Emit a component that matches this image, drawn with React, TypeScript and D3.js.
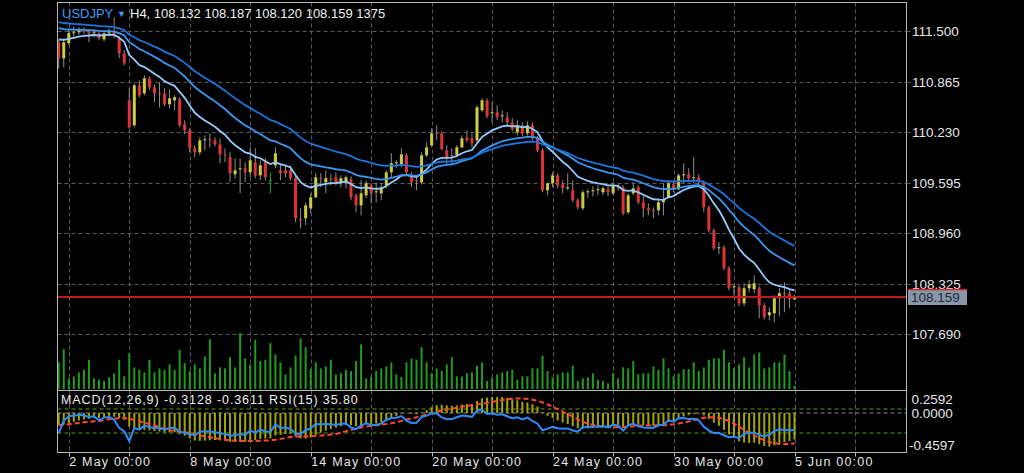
import React from "react";
import * as d3 from "d3";

// ---- H4 bars, 1 May 16:00 -> 5 Jun 00:00 ----
const opens = [
  111.366, 111.160, 111.349, 111.475, 111.487, 111.513, 111.500, 111.475, 111.475, 111.399,
  111.475, 111.487, 111.412, 111.223, 110.632, 110.318, 110.821, 110.720, 110.909, 110.796,
  110.720, 110.720, 110.582, 110.632, 110.645, 110.331, 110.255, 110.029, 109.978, 110.129,
  110.142, 110.129, 110.079, 109.953, 109.916, 109.702, 109.765, 109.778, 109.727, 109.853,
  109.689, 109.853, 109.626, 109.815, 109.752, 109.752, 109.752, 109.652, 109.136, 109.149,
  109.274, 109.413, 109.652, 109.601, 109.652, 109.664, 109.589, 109.601, 109.639, 109.438,
  109.312, 109.438, 109.564, 109.476, 109.463, 109.564, 109.727, 109.840, 109.815, 109.941,
  109.689, 109.626, 109.601, 109.941, 110.067, 110.217, 110.217, 110.004, 109.941, 109.941,
  110.041, 110.167, 110.154, 110.129, 110.507, 110.632, 110.469, 110.482, 110.431, 110.419,
  110.356, 110.230, 110.318, 110.217, 110.318, 110.154, 110.004, 109.501, 109.589, 109.689,
  109.576, 109.526, 109.501, 109.375, 109.274, 109.476, 109.488, 109.501, 109.476, 109.513,
  109.463, 109.551, 109.539, 109.224, 109.463, 109.539, 109.350, 109.274, 109.249, 109.249,
  109.350, 109.413, 109.576, 109.513, 109.689, 109.702, 109.652, 109.664, 109.601, 109.287,
  108.998, 108.772, 108.784, 108.520, 108.281, 108.281, 108.080, 108.269, 108.256, 108.269,
  108.055, 107.929, 107.954, 108.143, 108.206, 108.206, 108.132,
];
const highs = [
  111.387, 111.412, 111.513, 111.563, 111.550, 111.550, 111.525, 111.513, 111.500, 111.500,
  111.538, 111.676, 111.437, 111.261, 110.783, 110.846, 110.884, 110.947, 110.934, 110.834,
  110.859, 110.783, 110.771, 110.695, 110.670, 110.381, 110.280, 110.067, 110.167, 110.192,
  110.217, 110.167, 110.154, 110.029, 109.978, 109.903, 109.903, 109.853, 110.041, 110.029,
  109.878, 109.903, 109.727, 110.041, 109.828, 109.815, 109.815, 109.689, 109.274, 109.350,
  109.463, 109.715, 109.715, 109.752, 109.702, 109.727, 109.689, 109.689, 109.677, 109.463,
  109.626, 109.626, 109.589, 109.601, 109.589, 109.752, 109.966, 109.878, 110.029, 109.966,
  109.727, 109.689, 109.978, 110.104, 110.280, 110.318, 110.242, 110.067, 110.029, 110.067,
  110.192, 110.255, 110.217, 110.570, 110.657, 110.657, 110.607, 110.570, 110.507, 110.482,
  110.406, 110.381, 110.356, 110.369, 110.356, 110.180, 110.029, 109.601, 109.727, 109.715,
  109.626, 109.715, 109.626, 109.400, 109.501, 109.513, 109.551, 109.564, 109.551, 109.551,
  109.601, 109.576, 109.564, 109.463, 109.601, 109.564, 109.438, 109.337, 109.287, 109.400,
  109.589, 109.626, 109.626, 109.715, 109.840, 109.778, 109.916, 109.702, 109.626, 109.312,
  109.023, 108.847, 108.809, 108.545, 108.319, 108.306, 108.331, 108.369, 108.432, 108.294,
  108.080, 108.030, 108.181, 108.269, 108.344, 108.243, 108.187,
];
const lows = [
  111.035, 111.047, 111.324, 111.412, 111.450, 111.462, 111.362, 111.425, 111.387, 111.374,
  111.437, 111.412, 111.160, 111.072, 110.280, 110.293, 110.670, 110.695, 110.758, 110.607,
  110.544, 110.557, 110.532, 110.507, 110.293, 110.205, 109.978, 109.916, 109.941, 110.004,
  110.041, 110.054, 109.840, 109.853, 109.601, 109.652, 109.463, 109.601, 109.664, 109.652,
  109.626, 109.626, 109.463, 109.778, 109.626, 109.664, 109.626, 109.099, 109.023, 109.061,
  109.212, 109.400, 109.539, 109.463, 109.564, 109.564, 109.539, 109.526, 109.375, 109.224,
  109.186, 109.400, 109.337, 109.350, 109.375, 109.526, 109.652, 109.778, 109.790, 109.689,
  109.539, 109.501, 109.576, 109.916, 110.041, 110.129, 110.004, 109.815, 109.815, 109.916,
  110.029, 110.104, 110.041, 110.092, 110.482, 110.406, 110.356, 110.381, 110.356, 110.318,
  110.243, 110.192, 110.180, 110.192, 110.129, 109.978, 109.476, 109.438, 109.539, 109.526,
  109.463, 109.501, 109.350, 109.262, 109.249, 109.400, 109.425, 109.438, 109.438, 109.425,
  109.438, 109.501, 109.186, 109.199, 109.438, 109.325, 109.161, 109.186, 109.149, 109.186,
  109.186, 109.400, 109.476, 109.501, 109.589, 109.601, 109.589, 109.564, 109.224, 108.973,
  108.746, 108.696, 108.495, 108.243, 108.156, 108.042, 108.042, 108.218, 108.206, 107.891,
  107.879, 107.866, 107.841, 107.917, 107.967, 108.017, 108.120,
];
const closes = [
  111.160, 111.362, 111.475, 111.487, 111.513, 111.500, 111.475, 111.487, 111.412, 111.475,
  111.487, 111.437, 111.223, 111.098, 110.293, 110.821, 110.695, 110.909, 110.796, 110.720,
  110.708, 110.582, 110.657, 110.670, 110.318, 110.255, 110.029, 109.978, 110.129, 110.142,
  110.129, 110.079, 109.953, 109.941, 109.715, 109.752, 109.778, 109.727, 109.878, 109.689,
  109.815, 109.664, 109.626, 109.966, 109.715, 109.715, 109.652, 109.149, 109.130, 109.312,
  109.413, 109.664, 109.645, 109.652, 109.639, 109.601, 109.652, 109.664, 109.413, 109.312,
  109.463, 109.589, 109.463, 109.488, 109.539, 109.727, 109.840, 109.853, 109.953, 109.727,
  109.601, 109.614, 109.941, 110.041, 110.217, 110.205, 110.016, 109.916, 109.928, 110.041,
  110.154, 110.129, 110.092, 110.544, 110.632, 110.431, 110.482, 110.419, 110.444, 110.356,
  110.268, 110.318, 110.217, 110.318, 110.154, 110.004, 109.501, 109.589, 109.689, 109.564,
  109.526, 109.539, 109.375, 109.287, 109.476, 109.488, 109.501, 109.513, 109.526, 109.476,
  109.564, 109.526, 109.212, 109.438, 109.526, 109.350, 109.274, 109.249, 109.243, 109.350,
  109.375, 109.589, 109.513, 109.689, 109.702, 109.652, 109.664, 109.601, 109.287, 108.998,
  108.772, 108.784, 108.520, 108.269, 108.294, 108.080, 108.269, 108.319, 108.331, 108.055,
  107.904, 107.967, 108.143, 108.206, 108.199, 108.130, 108.159,
];
const volumes = [
  11600, 17400, 4640, 5510, 7250, 8410, 12760, 4640, 4060, 3480,
  5080, 6820, 12760, 5510, 15660, 9430, 8410, 7250, 12760, 7250,
  8990, 8410, 10730, 8410, 17110, 11310, 7830, 10730, 8990, 14210,
  21750, 6820, 9430, 8990, 13920, 9430, 24360, 13340, 10730, 21460,
  12180, 12760, 20010, 15080, 11600, 6380, 9430, 14500, 22040, 18270,
  8700, 11600, 8990, 9860, 12760, 6380, 6960, 8410, 7830, 12180,
  19430, 4640, 5220, 7830, 8990, 9860, 11600, 6380, 5220, 11600,
  13340, 12760, 18270, 11600, 6960, 8990, 7830, 10730, 13920, 5510,
  5510, 6820, 7250, 10150, 11600, 3480, 5080, 6380, 7250, 7830,
  8410, 4060, 5510, 5510, 8990, 8990, 14500, 7830, 5080, 6380,
  7250, 7250, 10150, 3480, 4640, 5080, 6820, 4060, 3480, 2470,
  6960, 4640, 9430, 8990, 12180, 6380, 6820, 6820, 9860, 8410,
  13340, 8990, 5510, 6820, 8700, 8700, 11600, 7830, 9430, 12760,
  13340, 13340, 17110, 11600, 8990, 10730, 13920, 9430, 15080, 15950,
  8990, 9430, 11600, 11600, 15080, 7830, 1375,
];

// ---- axis texts ----
const priceTicks = [111.5, 110.865, 110.23, 109.595, 108.96, 108.325, 107.69];
const timeLabels = ["2 May 00:00", "8 May 00:00", "14 May 00:00", "20 May 00:00", "24 May 00:00", "30 May 00:00", "5 Jun 00:00"];
const timeLabelBars = [2, 26, 50, 74, 98, 122, 146];
const macdAxisValues = [0.2592, 0, -0.4597];
const symbol = "USDJPY";
const headerText = "H4, 108.132 108.187 108.120 108.159 1375";
const subHeaderText = "MACD(12,26,9) -0.3128 -0.3611 RSI(15) 35.80";
const lastPrice = 108.159;
const rsiLevels = [70, 30];

// ---- indicator parameters ----
const EMA_PERIODS = [12, 26, 40];
const EMA_SEEDS = [111.44, 111.57, 111.64];
const MACD_SIGNAL = 9;
const RSI_PERIOD = 15;
const RSI_SEED = 0.011;

function ema(values: number[], period: number, seed: number) {
  const a = 2 / (period + 1);
  let e = seed;
  return values.map((v) => (e = e + a * (v - e)));
}
function rsiCalc(c: number[], o: number[], period: number, seed: number) {
  let g = seed, l = seed;
  return c.map((v, i) => {
    const ch = v - (i === 0 ? o[0] : c[i - 1]);
    g = (g * (period - 1) + Math.max(ch, 0)) / period;
    l = (l * (period - 1) + Math.max(-ch, 0)) / period;
    return 100 - 100 / (1 + g / l);
  });
}

const BULL = "#cdcd3c";
const BEAR = "#dd3535";
const WICK = "#8e8e8e";
const DOJI = "#22aa22";
const GRID = "#5a5a5a";
const FRAME = "#b8b8b8";
const MA_COLORS = ["#93cbff", "#3a98f2", "#1c74dc"];
const FONT = "'Liberation Sans', Arial, sans-serif";

export default function App() {
  const n = closes.length;
  const idx = d3.range(n);
  const L = 57.5, R = 906.5, T = 2.5, MB = 390.5, SB = 452.5;
  const x = d3.scaleLinear().domain([0, 146]).range([58.7, 794.5]);
  const y = d3.scaleLinear().domain([107.69, 111.5]).range([334.3, 31.3]);
  const yVol = d3.scaleLinear().domain([0, 24000]).range([389, 334]);
  const yMacd = d3.scaleLinear().domain([-0.4597, 0.2592]).range([452, 391]);
  const yRsi = d3.scaleLinear().domain([0, 100]).range([451, 391]);

  const emas = EMA_PERIODS.map((p, k) => ema(closes, p, EMA_SEEDS[k]));
  const macd = idx.map((i) => emas[0][i] - emas[1][i]);
  const signal = idx.map((i) => d3.mean(macd.slice(Math.max(0, i - MACD_SIGNAL + 1), i + 1)) as number);
  const rsi = rsiCalc(closes, opens, RSI_PERIOD, RSI_SEED);

  const priceLine = d3.line<number>().x((_, i) => x(i)).y((v) => y(v));
  const signalLine = d3.line<number>().x((_, i) => x(i)).y((v) => yMacd(v));
  const rsiLine = d3.line<number>().x((_, i) => x(i)).y((v) => yRsi(v));
  const gridBars = d3.range(2, 170, 12).filter((b) => x(b) < R - 2);

  return (
    <svg width={1024} height={473} style={{ position: "absolute", left: 0, top: 0, display: "block" }}>
      <defs>
        <clipPath id="mainClip"><rect x={L + 0.5} y={T + 0.5} width={R - L - 1} height={MB - T - 1} /></clipPath>
        <clipPath id="subClip"><rect x={L + 0.5} y={MB + 0.5} width={R - L - 1} height={SB - MB - 1} /></clipPath>
      </defs>
      <rect x={0} y={0} width={1024} height={473} fill="#000" />

      {/* grids */}
      <g stroke={GRID} strokeWidth={1} strokeDasharray="4,3">
        {gridBars.map((b) => (
          <line key={"vg" + b} x1={Math.round(x(b)) + 0.5} x2={Math.round(x(b)) + 0.5} y1={T} y2={MB} />
        ))}
        {gridBars.map((b) => (
          <line key={"vs" + b} x1={Math.round(x(b)) + 0.5} x2={Math.round(x(b)) + 0.5} y1={MB} y2={SB} />
        ))}
        {priceTicks.map((p) => (
          <line key={"hg" + p} x1={L} x2={R} y1={Math.round(y(p)) + 0.5} y2={Math.round(y(p)) + 0.5} />
        ))}
      </g>

      {/* main panel */}
      <g clipPath="url(#mainClip)">
        {idx.map((i) => (
          <rect key={"v" + i} x={x(i) - 1} width={2} y={yVol(volumes[i])} height={389 - yVol(volumes[i])} fill="#229a22" />
        ))}
        {idx.map((i) => {
          const o = opens[i], c = closes[i];
          const doji = o === c;
          const col = doji ? DOJI : c > o ? BULL : BEAR;
          const top = Math.min(y(o), y(c));
          const h = Math.max(1, Math.abs(y(o) - y(c)));
          return (
            <g key={"c" + i}>
              <line x1={x(i)} x2={x(i)} y1={y(highs[i])} y2={y(lows[i])} stroke={doji ? DOJI : WICK} strokeWidth={1} />
              <rect x={x(i) - 1.5} width={3} y={top} height={h} fill={col} />
            </g>
          );
        })}
        {emas.map((e, k) => (
          <path key={"ma" + k} d={priceLine(e) || ""} fill="none" stroke={MA_COLORS[k]} strokeWidth={1.8} />
        ))}
        <line x1={L} x2={R} y1={y(lastPrice)} y2={y(lastPrice)} stroke="#b81c1c" strokeWidth={2.2} />
      </g>

      {/* sub panel: MACD + RSI */}
      <g clipPath="url(#subClip)">
        {rsiLevels.map((lv) => (
          <line key={"rl" + lv} x1={L} x2={R} y1={yRsi(lv)} y2={yRsi(lv)} stroke="#5c9c10" strokeDasharray="4,3" />
        ))}
        <line x1={L} x2={R} y1={yMacd(0)} y2={yMacd(0)} stroke="#8a8a8a" strokeDasharray="4,3" />
        {idx.map((i) => (
          <rect key={"m" + i} x={x(i) - 1} width={2}
            y={Math.min(yMacd(0), yMacd(macd[i]))} height={Math.abs(yMacd(macd[i]) - yMacd(0))} fill="#a5a500" />
        ))}
        <path d={signalLine(signal) || ""} fill="none" stroke="#ff4433" strokeWidth={2} strokeDasharray="5,3" />
        <path d={rsiLine(rsi) || ""} fill="none" stroke="#2a8cff" strokeWidth={2} />
      </g>

      {/* frames */}
      <rect x={L} y={T} width={R - L} height={MB - T} fill="none" stroke={FRAME} />
      <rect x={L} y={MB} width={R - L} height={SB - MB} fill="none" stroke={FRAME} />

      {/* price axis */}
      <g fontFamily={FONT} fontSize={13.5} fill="#e6e6e6">
        {priceTicks.map((p) => (
          <g key={"pt" + p}>
            <line x1={R} x2={R + 4} y1={Math.round(y(p)) + 0.5} y2={Math.round(y(p)) + 0.5} stroke={GRID} />
            <text x={912} y={y(p) + 5}>{p.toFixed(3)}</text>
          </g>
        ))}
        {macdAxisValues.map((v, k) => (
          <text key={"ma" + v} x={v < 0 ? 909 : 911.5} y={k === 0 ? 404 : k === 1 ? 418 : 450}>{v.toFixed(4)}</text>
        ))}
      </g>
      <rect x={908} y={y(lastPrice) - 8} width={59} height={16} fill="#8796a8" />
      <line x1={908} x2={967} y1={y(lastPrice) - 7.5} y2={y(lastPrice) - 7.5} stroke="#d02020" strokeWidth={1.5} />
      <text x={911} y={y(lastPrice) + 5} fontFamily={FONT} fontSize={13.5} fill="#262a30">{lastPrice.toFixed(3)}</text>

      {/* time axis */}
      <g fontFamily={FONT} fontSize={12.5} fill="#e6e6e6" letterSpacing={1.2}>
        {gridBars.map((b) => (
          <line key={"tt" + b} x1={Math.round(x(b)) + 0.5} x2={Math.round(x(b)) + 0.5} y1={SB} y2={SB + 4} stroke={FRAME} />
        ))}
        {timeLabels.map((t, k) => (
          <text key={t} x={x(timeLabelBars[k]) + 0.5} y={466}>{t}</text>
        ))}
      </g>

      {/* headers */}
      <text x={62} y={18} fontFamily={FONT} fontSize={13} fill="#3d9cf5">{symbol}</text>
      <text x={117} y={17} fontFamily={FONT} fontSize={9} fill="#3d9cf5">▼</text>
      <text x={130} y={18} fontFamily={FONT} fontSize={13} fill="#f2f2f2">{headerText}</text>
      <text x={61} y={403.5} fontFamily={FONT} fontSize={12.5} fill="#f0f0f0" letterSpacing={0.9}>{subHeaderText}</text>
    </svg>
  );
}
